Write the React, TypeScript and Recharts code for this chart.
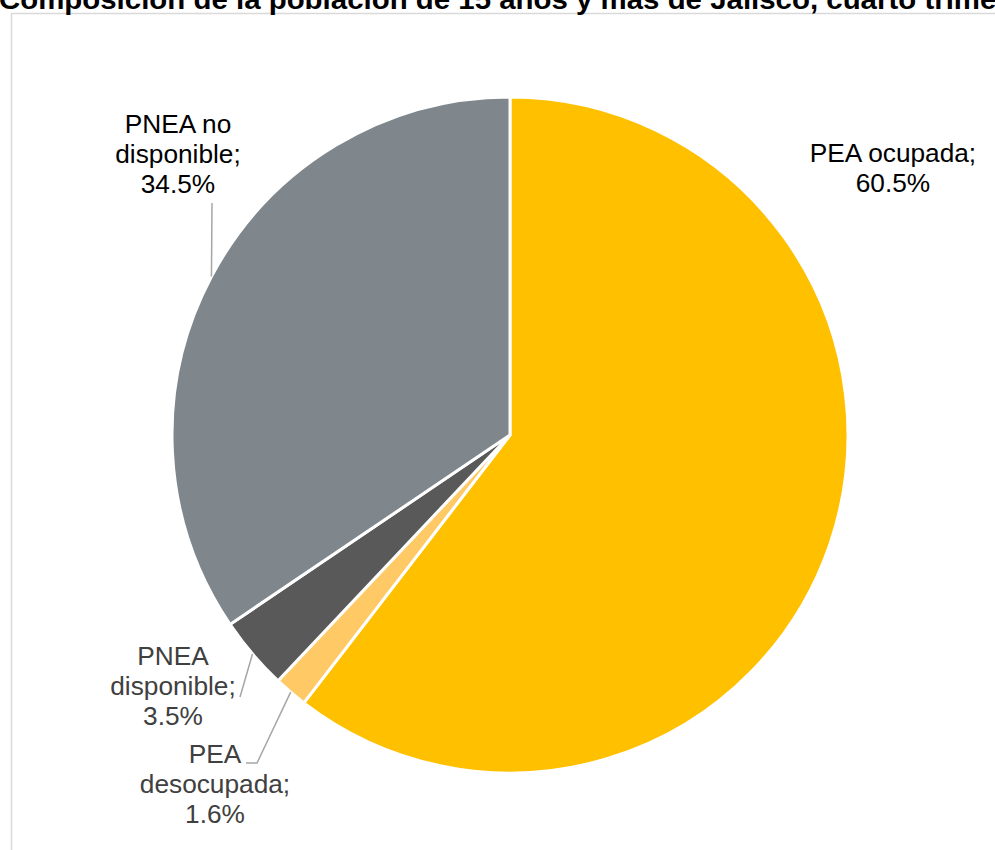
import React from 'react';
import { PieChart, Pie, Cell } from 'recharts';

// Composición de la población de 15 años y más, Jalisco
const CATEGORIES = ['PEA ocupada', 'PEA desocupada', 'PNEA disponible', 'PNEA no disponible'];
const SHARES = [60.5, 1.6, 3.5, 34.5];
// how Excel wrapped each category name inside its data label
const NAME_LINES = [['PEA ocupada;'], ['PEA', 'desocupada;'], ['PNEA', 'disponible;'], ['PNEA no', 'disponible;']];

const TITLE = 'Composición de la población de 15 años y más de Jalisco, cuarto trimestre';
const COLORS = ['#FFC000', '#FFC966', '#595959', '#7F878C'];
const LABEL_COLORS = ['#000000', '#404040', '#404040', '#000000'];

// label placement relative to the pie centre (Excel "best fit" look)
const LABEL_POS = [
  { dx: 383, dy: -273, line: null },
  { dx: -295, dy: 328, line: [[-253, 328], [-264, 328]] },
  { dx: -337, dy: 230, line: [[-270, 262]] },
  { dx: -332, dy: -302, line: [[-298, -232]] },
];

const W = 995;
const H = 850;
const CX = 510;
const CY = 435;
const R = 338;
const FONT = '"Liberation Sans", Arial, sans-serif';
const LINE_H = 30;

const data = CATEGORIES.map((name, i) => ({ name, value: SHARES[i] }));

const renderLabel = (props: any) => {
  const { cx, cy, index } = props;
  const pos = LABEL_POS[index];
  const lines = [...NAME_LINES[index], `${SHARES[index].toFixed(1)}%`];
  const x = cx + pos.dx;
  return (
    <text
      key={`lbl-${index}`}
      x={x}
      y={cy + pos.dy}
      textAnchor="middle"
      fill={LABEL_COLORS[index]}
      fontFamily={FONT}
      fontSize={25}
      transform={`translate(${x} 0) scale(1.05 1) translate(${-x} 0)`}
    >
      {lines.map((t, j) => (
        <tspan key={j} x={x} dy={j === 0 ? 0 : LINE_H}>
          {t}
        </tspan>
      ))}
    </text>
  );
};

const renderLine = (props: any) => {
  const { cx, cy, index, points } = props;
  const pos = LABEL_POS[index];
  if (!pos.line || !points) return <g key={`ln-${index}`} />;
  const start = points[0];
  const pts = [[start.x, start.y], ...pos.line.map(([dx, dy]) => [cx + dx, cy + dy])];
  return (
    <polyline
      key={`ln-${index}`}
      points={pts.map(p => p.join(',')).join(' ')}
      fill="none"
      stroke="#A6A6A6"
      strokeWidth={1.5}
    />
  );
};

export default function App() {
  return (
    <div style={{ position: 'absolute', left: 0, top: 0, width: W, height: H, overflow: 'hidden', background: '#fff' }}>
      <svg width={W} height={H} style={{ position: 'absolute', left: 0, top: 0 }}>
        <rect x={11.5} y={13.5} width={1200} height={1000} fill="#fff" stroke="#D9D9D9" strokeWidth={1.5} />
        <text x={-1} y={8.5} fontFamily={FONT} fontWeight="bold" fontSize={27} fill="#000" transform="scale(1.09 1)">
          {TITLE}
        </text>
      </svg>
      <div style={{ position: 'absolute', left: 0, top: 0 }}>
        <PieChart width={W} height={H} margin={{ top: 0, right: 0, bottom: 0, left: 0 }}>
          <Pie
            data={data}
            dataKey="value"
            nameKey="name"
            cx={CX}
            cy={CY}
            outerRadius={R}
            startAngle={90}
            endAngle={-270}
            stroke="#FFFFFF"
            strokeWidth={3}
            label={renderLabel}
            labelLine={renderLine}
            isAnimationActive={false}
          >
            {data.map((entry, index) => (
              <Cell key={`cell-${index}`} fill={COLORS[index]} />
            ))}
          </Pie>
        </PieChart>
      </div>
    </div>
  );
}
